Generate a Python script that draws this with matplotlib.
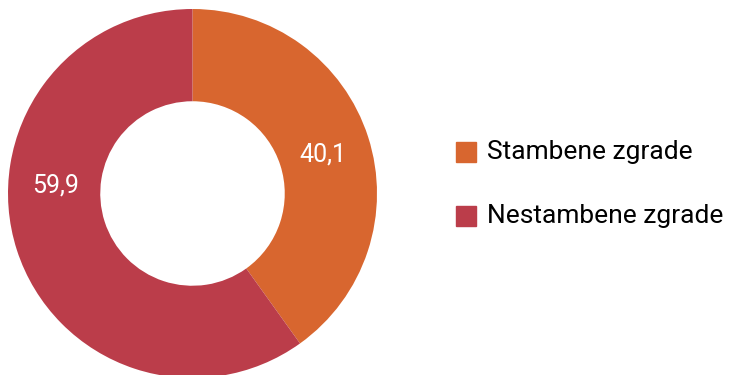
import numpy as np
from matplotlib import pyplot as plt
import matplotlib
from matplotlib.patches import Rectangle

matplotlib.rcParams['font.family'] = ['Roboto', 'DejaVu Sans']

#%% Data
labels = ['Stambene zgrade', 'Nestambene zgrade']
values = [40.1, 59.9]
value_labels = ['40,1', '59,9']
colors = ['#D8662F', '#BB3D4A']

#%% Figure
W, H = 730, 375
fig = plt.figure(figsize=(W/100, H/100), dpi=100)

# donut centre (px from left / from bottom) and outer radius
cx, cy, R = 192.5, 181.5, 184.5
ax = fig.add_axes([(cx-R)/W, (cy-R)/H, 2*R/W, 2*R/H])
wedges, _ = ax.pie(values, colors=colors, startangle=90, counterclock=False,
                   radius=1, wedgeprops=dict(width=0.5, edgecolor='none'))
ax.set_xlim(-1, 1)
ax.set_ylim(-1, 1)
ax.set_aspect('equal')
ax.axis('off')

# value labels
lab_pos = [(0.705, 0.209), (-0.743, 0.046)]
for (x, y), t in zip(lab_pos, value_labels):
    ax.text(x, y, t, color='white', fontsize=18, ha='center', va='center')

# legend
leg_y = [152, 216]  # px from top, centre of square
for c, t, y in zip(colors, labels, leg_y):
    yb = (H - y) / H
    fig.patches.append(Rectangle((456/W, yb - 10/H), 20/W, 20/H, color=c,
                                 transform=fig.transFigure, figure=fig))
    fig.text(487/W, yb, t, fontsize=19, color='black', ha='left', va='center')

fig.savefig('out.png', dpi=100)
